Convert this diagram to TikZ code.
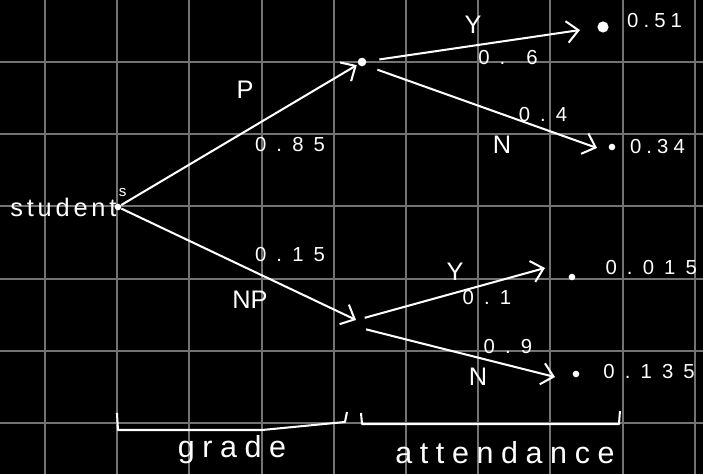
\documentclass[tikz,border=0pt]{standalone}
\usepackage{fontspec}
\usepackage{tikz}
\usetikzlibrary{arrows.meta}
\newfontfamily\handnum[LetterSpace=50]{Liberation Sans}
\newfontfamily\handword[LetterSpace=25]{Liberation Sans}
\newfontfamily\handname[LetterSpace=15]{Liberation Sans}
\newfontfamily\handtag{Liberation Sans}
\begin{document}
\begin{tikzpicture}[x=1cm,y=1cm,
  every node/.style={text=white,inner sep=0pt},
  gridline/.style={draw=white!45!black,line width=0.8pt},
  branch/.style={draw=white,line width=0.8pt,-{Straight Barb[length=1.6mm,width=3mm]}},
  dot/.style={circle,fill=white,minimum size=2.6pt},
  num/.style={font=\handnum\fontsize{8}{9}\selectfont},
  edgenum/.style={font=\handword\fontsize{8}{9}\selectfont},
  tag/.style={font=\handtag\fontsize{10}{11}\selectfont},
  word/.style={font=\handword\fontsize{12}{13}\selectfont}]
\fill[black] (0,0) rectangle (9.737,-6.565);
\useasboundingbox (0,0) rectangle (9.737,-6.565);
\foreach \x in {0,...,9}
  \draw[gridline] (0.623+\x,0) -- (0.623+\x,-6.565);
\foreach \y in {0,...,5}
  \draw[gridline] (0,-0.859-\y) -- (9.737,-0.859-\y);
\node[dot] (root) at (1.634,-2.867) {};
\node[dot,minimum size=3.4pt] (pass) at (5.014,-0.859) {};
\coordinate (nopass) at (4.931,-4.432);
\node[dot,minimum size=4.4pt] (py) at (8.352,-0.374) {};
\node[dot] (pn) at (8.476,-2.036) {};
\node[dot] (npy) at (7.922,-3.837) {};
\node[dot] (npn) at (7.978,-5.180) {};
\coordinate (pytip) at (8.033,-0.416);
\coordinate (pntip) at (8.269,-2.050);
\coordinate (npytip) at (7.548,-3.712);
\coordinate (npntip) at (7.687,-5.222);
\node[font=\handname\fontsize{10}{11}\selectfont,anchor=east] (stud) at (1.62,-2.867) {student};
\node[font=\handtag\fontsize{6}{7}\selectfont] (studs) at (1.70,-2.66) {s};
\draw[branch,shorten >=0.5pt] (root) -- (pass);
\draw[branch] (root) -- (nopass);
\draw[branch,shorten <=5pt] (pass) -- (pytip);
\draw[branch,shorten <=5pt] (pass.south east) -- (pntip);
\draw[branch] ([shift={(0.12,0.03)}]nopass) -- (npytip);
\draw[branch] ([shift={(0.14,-0.13)}]nopass) -- (npntip);
\node[tag] (lp) at (3.393,-1.247) {P};
\node[num] (l085) at (4.017,-2.008) {0.85};
\node[num] (l015) at (4.017,-3.532) {0.15};
\node[tag] (lnp) at (3.463,-4.155) {NP};
\node[tag] (ly1) at (6.551,-0.346) {Y};
\node[num] (l06) at (7.036,-0.803) {0. 6};
\node[num] (l04) at (7.521,-1.593) {0.4};
\node[tag] (ln1) at (6.953,-2.008) {N};
\node[tag] (ly2) at (6.302,-3.767) {Y};
\node[num] (l01) at (6.745,-4.114) {0.1};
\node[num] (l09) at (7.036,-4.806) {0.9};
\node[tag] (ln2) at (6.620,-5.222) {N};
\node[edgenum,anchor=west] (vpy) at (8.68,-0.29) {0.51};
\node[edgenum,anchor=west] (vpn) at (8.72,-2.036) {0.34};
\node[num,anchor=west] (vnpy) at (8.38,-3.70) {0.015};
\node[num,anchor=west] (vnpn) at (8.35,-5.152) {0.135};
\draw[white,line width=0.8pt,line join=round] (1.62,-5.72) -- (1.634,-5.956) -- (3.629,-5.956) -- (4.778,-5.845) -- (4.806,-5.706);
\draw[white,line width=0.8pt,line join=round] (5.0,-5.72) -- (5.014,-5.873) -- (8.573,-5.873) -- (8.587,-5.693);
\node[word] (grade) at (3.213,-6.233) {grade};
\node[word] (attend) at (6.994,-6.274) {attendance};
\end{tikzpicture}
\end{document}
